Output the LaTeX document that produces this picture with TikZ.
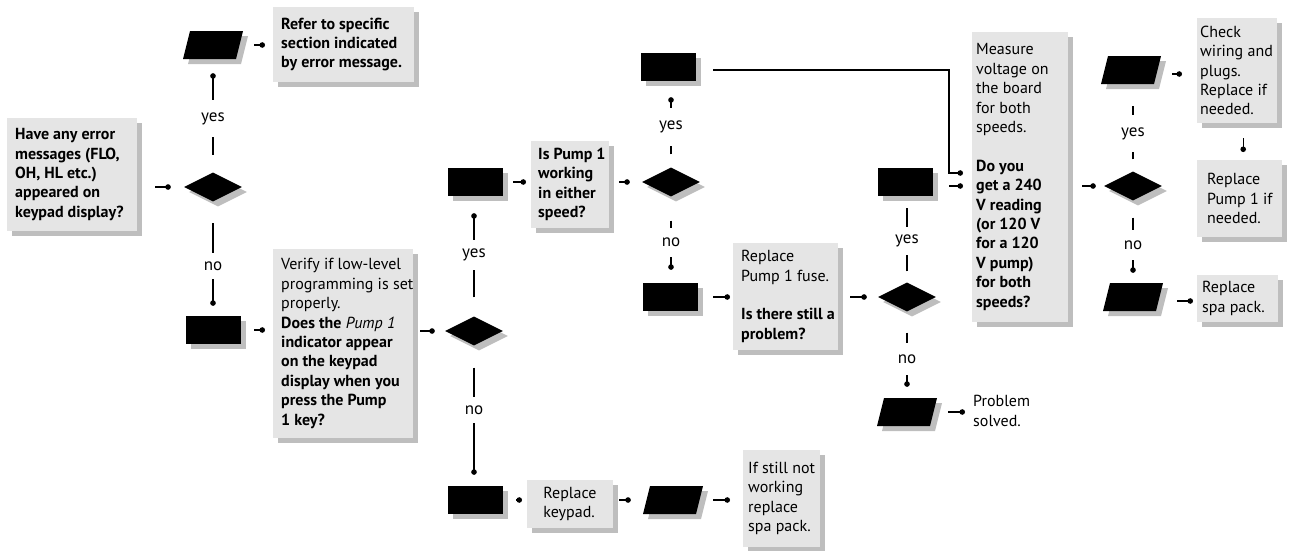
\documentclass[tikz,border=0pt]{standalone}
\usepackage{fontspec}
\setmainfont{PT Sans}
\usetikzlibrary{shapes.geometric,arrows.meta,shadows}
\definecolor{boxgray}{RGB}{229,229,229}
\definecolor{shadowgray}{RGB}{190,190,190}
\tikzset{
  every node/.style={font=\fontsize{16}{19.4}\selectfont},
  sh/.style={general shadow={fill=shadowgray, shadow xshift=5pt, shadow yshift=-5pt}},
  box/.style={fill=boxgray, inner sep=0, anchor=north west, sh},
  txt/.style={inner sep=0, align=left, anchor=west},
  blk/.style={fill=black, inner sep=0, minimum width=55, minimum height=28, sh},
  dia/.style={diamond, fill=black, inner sep=0, minimum width=58, minimum height=29, sh},
  inv/.style={inner sep=0, minimum width=60, minimum height=28},
  conn/.style={line width=1.1pt, -{Circle[length=5.5pt,width=5.5pt]}},
  plain/.style={line width=1.1pt},
  lab/.style={fill=white, inner sep=0, minimum width=30, font=\fontsize{17}{19}\selectfont},
}
\newcommand\paral[3]{%
  \fill[shadowgray, shift={(#2+5,#3+5)}] (-23,-14) -- (30,-14) -- (23,14) -- (-30,14) -- cycle;
  \fill[black, shift={(#2,#3)}] (-23,-14) -- (30,-14) -- (23,14) -- (-30,14) -- cycle;
  \node[inv] (#1) at (#2,#3) {};}
\begin{document}
\begin{tikzpicture}[x=1pt,y=-1pt]
\useasboundingbox (0,0) rectangle (1294,550);
% text boxes
\node[box, minimum width=130, minimum height=113] (A) at (7,118) {};
\node[box, minimum width=141, minimum height=75] (Refer) at (273,7) {};
\node[box, minimum width=140, minimum height=189] (Verify) at (273,249) {};
\node[box, minimum width=78, minimum height=87] (IsPump) at (531,141) {};
\node[box, minimum width=86, minimum height=48] (Keypad) at (527,480) {};
\node[box, minimum width=77, minimum height=97] (IfStill) at (743,450) {};
\node[box, minimum width=105, minimum height=107] (Fuse) at (733,243) {};
\node[box, minimum width=96, minimum height=290] (Measure) at (972,32) {};
\node[box, minimum width=80, minimum height=105] (Check) at (1197,18) {};
\node[box, minimum width=85, minimum height=77] (RepPump) at (1197,160) {};
\node[box, minimum width=81, minimum height=47] (SpaPack) at (1197,275) {};
% texts
\node[txt, font=\fontsize{16}{19.4}\selectfont\bfseries] (At) at (15,174.5) {Have any error\\messages (FLO,\\OH, HL etc.)\\appeared on\\keypad display?};
\node[txt, font=\fontsize{16}{19.4}\selectfont\bfseries] (Refert) at (281,44.5) {Refer to specific\\section indicated\\by error message.};
\node[txt] (Verifyt) at (281,343.5) {Verify if low-level\\programming is set\\properly.\\\textbf{Does the} \textit{Pump 1}\\\textbf{indicator appear}\\\textbf{on the keypad}\\\textbf{display when you}\\\textbf{press the Pump}\\\textbf{1 key?}};
\node[txt, font=\fontsize{16}{19.4}\selectfont\bfseries] (IsPumpt) at (538,184.5) {Is Pump 1\\working\\in either\\speed?};
\node[txt, anchor=center] (Keypadt) at (570,504) {Replace\\keypad.};
\node[txt] (IfStillt) at (748,498.5) {If still not\\working\\replace\\spa pack.};
\node[txt] (Fuset) at (741,296.5) {Replace\\Pump 1 fuse.\\[19.4pt]\textbf{Is there still a}\\\textbf{problem?}};
\node[txt] (Measuret) at (976,177) {Measure\\voltage on\\the board\\for both\\speeds.\\[19.4pt]\textbf{Do you}\\\textbf{get a 240}\\\textbf{V reading}\\\textbf{(or 120 V}\\\textbf{for a 120}\\\textbf{V pump)}\\\textbf{for both}\\\textbf{speeds?}};
\node[txt] (Checkt) at (1200,70.5) {Check\\wiring and\\plugs.\\Replace if\\needed.};
\node[txt] (RepPumpt) at (1207,198.5) {Replace\\Pump 1 if\\needed.};
\node[txt] (SpaPackt) at (1202,298.5) {Replace\\spa pack.};
\node[txt] (PS) at (973,411) {Problem\\solved.};
% black shapes
\node[dia] (D1) at (213,187) {};
\paral{P1}{213}{45}
\node[blk] (R1) at (213,330) {};
\node[dia] (D2) at (474,331) {};
\node[blk] (R2) at (475,182) {};
\node[blk] (R3) at (475,500) {};
\paral{P2}{673}{500}
\node[dia] (D3) at (671,182) {};
\node[blk] (R4) at (668,67) {};
\node[blk] (R5) at (670,297) {};
\node[dia] (D4) at (907,297) {};
\node[blk] (R6) at (905,182) {};
\paral{P3}{907}{412}
\node[dia] (D5) at (1133,186) {};
\paral{P4}{1131}{70}
\paral{P5}{1133}{297}
\coordinate (k1) at (949,173);
% connectors
\draw[conn, shorten <=18, shorten >=13] (D1.west -| A.east) -- (D1.west);
\draw[conn, shorten <=11, shorten >=8] (P1.east) -- (P1.east -| Refer.west);
\draw[conn, shorten <=17.5, shorten >=14] (D1.north) -- (D1.north |- P1.south);
\draw[conn, shorten <=21.5, shorten >=10] (D1.south) -- (D1.south |- R1.north);
\draw[conn, shorten <=13.5, shorten >=8] (R1.east) -- (R1.east -| Verify.west);
\draw[conn, shorten <=7, shorten >=10] (D2.west -| Verify.east) -- (D2.west);
\draw[conn, shorten <=19, shorten >=17] (D2.north) -- (D2.north |- R2.south);
\draw[conn, shorten <=22, shorten >=11] (D2.south) -- (D2.south |- R3.north);
\draw[conn, shorten <=13.5, shorten >=5] (R3.east) -- (R3.east -| Keypad.west);
\draw[conn, shorten <=6, shorten >=12] (P2.west -| Keypad.east) -- (P2.west);
\draw[conn, shorten <=10, shorten >=13] (P2.east) -- (P2.east -| IfStill.west);
\draw[conn, shorten <=10.5, shorten >=5] (R2.east) -- (R2.east -| IsPump.west);
\draw[conn, shorten <=10, shorten >=12] (D3.west -| IsPump.east) -- (D3.west);
\draw[conn, shorten <=13, shorten >=16] (D3.north) -- (D3.north |- R4.south);
\draw[conn, shorten <=24, shorten >=13] (D3.south) -- (D3.south |- R5.north);
\draw[conn, shorten <=15.5, shorten >=3] (R5.east) -- (R5.east -| Fuse.west);
\draw[conn, shorten <=17.5, shorten >=9] ([yshift=-3]R4.east) -| (k1) -- (k1 -| Measure.west);
\draw[conn, shorten <=12, shorten >=11] (D4.west -| Fuse.east) -- (D4.west);
\draw[plain, shorten <=11, shorten >=12] (D4.north) -- (D4.north |- R6.south);
\draw[conn, shorten <=16.5, shorten >=9] ([yshift=-4]R6.east) -- ([yshift=-4]R6.east -| Measure.west);
\draw[conn, shorten <=21, shorten >=11] (D4.south) -- (D4.south |- P3.north);
\draw[conn, shorten <=11, shorten >=8] (P3.east) -- (P3.east -| PS.west);
\draw[conn, shorten <=14, shorten >=8] (D5.west -| Measure.east) -- (D5.west);
\draw[plain, shorten <=12, shorten >=22] (D5.north) -- (D5.north |- P4.south);
\draw[conn, shorten <=11, shorten >=15] ([yshift=-4]P4.east) -- ([yshift=-4]P4.east -| Check.west);
\draw[conn, shorten <=15, shorten >=8] ([xshift=6]Check.south) -- ([xshift=6]Check.south |- RepPump.north);
\draw[conn, shorten <=17, shorten >=10] (D5.south) -- (D5.south |- P5.north);
\draw[conn, shorten <=14, shorten >=4] ([yshift=-4]P5.east) -- ([yshift=-4]P5.east -| SpaPack.west);
% labels
\node[lab, minimum height=37] (l1) at (213,118.5) {yes};
\node[lab, minimum height=26] (l2) at (213,266) {no};
\node[lab, minimum height=30] (l3) at (474,255) {yes};
\node[lab, minimum height=26] (l4) at (474,410) {no};
\node[lab, minimum height=38] (l5) at (671,127) {yes};
\node[lab, minimum height=29] (l6) at (671,242.5) {no};
\node[lab, minimum height=28] (l7) at (907,241) {yes};
\node[lab, minimum height=32] (l8) at (907,359) {no};
\node[lab, minimum height=37] (l9) at (1133,133.5) {yes};
\node[lab, minimum height=30] (l10) at (1133,245) {no};
\end{tikzpicture}
\end{document}
